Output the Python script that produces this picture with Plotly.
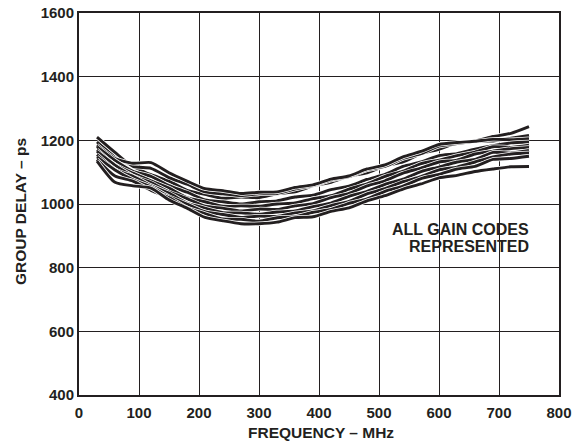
import plotly.graph_objects as go

freq_mhz = [30, 60, 90, 120, 150, 180, 210, 240, 270, 300, 330, 360, 390,
            420, 450, 480, 510, 540, 570, 600, 630, 660, 690, 720, 750]

code_1 = [1195, 1148, 1118, 1092, 1072, 1043, 1030, 1018, 1022, 1020, 1032, 1038, 1057, 1068, 1088, 1098, 1120, 1132, 1158, 1172, 1192, 1198, 1212, 1222, 1243]
code_2 = [1210, 1162, 1118, 1112, 1083, 1062, 1038, 1032, 1026, 1032, 1033, 1047, 1058, 1075, 1086, 1107, 1118, 1143, 1158, 1182, 1190, 1197, 1198, 1207, 1215]
code_3 = [1185, 1143, 1128, 1130, 1098, 1072, 1048, 1042, 1033, 1037, 1038, 1052, 1060, 1078, 1088, 1110, 1123, 1148, 1165, 1187, 1193, 1197, 1203, 1202, 1205]
code_4 = [1180, 1137, 1103, 1087, 1058, 1037, 1013, 1007, 1000, 1007, 1010, 1022, 1028, 1045, 1056, 1077, 1093, 1118, 1132, 1152, 1158, 1172, 1183, 1192, 1195]
code_5 = [1170, 1123, 1097, 1073, 1050, 1020, 1007, 993, 994, 993, 1000, 1003, 1017, 1026, 1047, 1063, 1087, 1103, 1127, 1138, 1152, 1163, 1180, 1178, 1185]
code_6 = [1165, 1122, 1088, 1067, 1038, 1017, 993, 987, 978, 984, 983, 994, 1001, 1020, 1033, 1057, 1073, 1097, 1113, 1132, 1138, 1157, 1166, 1174, 1178]
code_7 = [1155, 1108, 1087, 1058, 1034, 1003, 987, 973, 972, 968, 975, 978, 992, 1003, 1024, 1040, 1062, 1078, 1102, 1116, 1132, 1140, 1162, 1160, 1168]
code_8 = [1148, 1107, 1076, 1054, 1023, 1000, 976, 967, 958, 962, 961, 972, 978, 995, 1008, 1032, 1048, 1070, 1086, 1107, 1116, 1132, 1148, 1157, 1160]
code_9 = [1140, 1088, 1072, 1043, 1020, 988, 970, 953, 952, 946, 957, 960, 974, 983, 1002, 1016, 1040, 1056, 1080, 1093, 1110, 1118, 1140, 1143, 1150]
code_10 = [1135, 1068, 1057, 1050, 1013, 987, 958, 947, 938, 938, 943, 957, 960, 977, 988, 1010, 1026, 1047, 1063, 1082, 1090, 1102, 1110, 1117, 1118]

series = [code_1, code_2, code_3, code_4, code_5, code_6, code_7, code_8, code_9, code_10]

x_ticks = [0, 100, 200, 300, 400, 500, 600, 700, 800]
y_ticks = [400, 600, 800, 1000, 1200, 1400, 1600]

note_lines = ["ALL GAIN CODES", "REPRESENTED"]

FONT = "Liberation Sans, Arial, sans-serif"
INK = "#231f20"

# plot area in pixels: x 79..559, y 13..395
def px_x(p):
    return (p - 79) / 480

def px_y(p):
    return (395 - p) / 382

fig = go.Figure()
for vals in series:
    fig.add_trace(go.Scatter(x=freq_mhz, y=vals, mode="lines",
                             line=dict(color="white", width=4.4, shape="spline", smoothing=0.6),
                             hoverinfo="skip", showlegend=False))
    fig.add_trace(go.Scatter(x=freq_mhz, y=vals, mode="lines",
                             line=dict(color=INK, width=2.9, shape="spline", smoothing=0.6),
                             showlegend=False))

# white box behind the note, hiding the grid
fig.add_shape(type="rect", xref="paper", yref="paper", layer="below",
              x0=px_x(390), x1=px_x(536), y0=px_y(258), y1=px_y(218),
              fillcolor="white", line=dict(width=0))
for line_txt, cy in zip(note_lines, [229.5, 246.5]):
    fig.add_annotation(x=px_x(531), y=px_y(cy), xref="paper", yref="paper",
                       xanchor="right", yanchor="middle",
                       text=f"<b>{line_txt}</b>", showarrow=False,
                       font=dict(family=FONT, size=16, color=INK))

fig.add_annotation(x=px_x(321), y=px_y(432), xref="paper", yref="paper",
                   xanchor="center", yanchor="middle",
                   text="<b>FREQUENCY – MHz</b>", showarrow=False,
                   font=dict(family=FONT, size=15.5, color=INK))
fig.add_annotation(x=px_x(20), y=px_y(212), xref="paper", yref="paper",
                   xanchor="center", yanchor="middle", textangle=-90,
                   text="<b>GROUP DELAY – ps</b>", showarrow=False,
                   font=dict(family=FONT, size=15.5, color=INK))

fig.update_layout(
    width=578, height=441,
    margin=dict(l=79, r=19, t=13, b=46),
    paper_bgcolor="white", plot_bgcolor="white",
    font=dict(family=FONT, color=INK),
)
fig.update_xaxes(range=[0, 800], tickvals=x_ticks, ticktext=[f"<b>{v}</b>" for v in x_ticks],
                 showgrid=True, gridcolor=INK, gridwidth=1,
                 showline=True, linecolor=INK, linewidth=2, mirror=True,
                 ticks="", tickfont=dict(size=15, family=FONT, color=INK),
                 ticklabelstandoff=3,
                 automargin=False, zeroline=False)
fig.update_yaxes(range=[400, 1600], tickvals=y_ticks, ticktext=[f"<b>{v}</b>" for v in y_ticks],
                 showgrid=True, gridcolor=INK, gridwidth=1,
                 showline=True, linecolor=INK, linewidth=2, mirror=True,
                 ticks="", tickfont=dict(size=15, family=FONT, color=INK),
                 automargin=False, zeroline=False)

fig.write_html("out.html", config={"displayModeBar": False},
               post_script="document.body.style.margin='0';")
